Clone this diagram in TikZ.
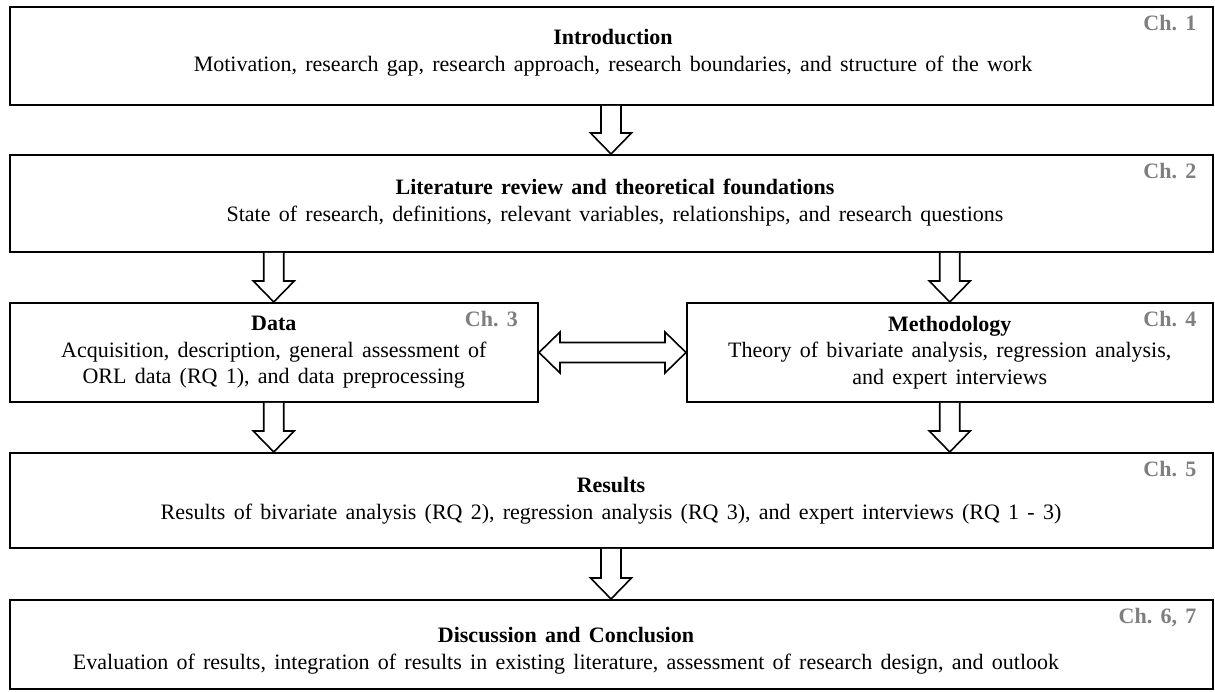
\documentclass[tikz,border=0pt]{standalone}
\usepackage{fontspec}
\setmainfont[WordSpace=1.5]{Liberation Serif}
\usetikzlibrary{calc}
\definecolor{chgray}{HTML}{7F7F7F}
\tikzset{
  box/.style={draw=black, line width=2pt, fill=white, inner sep=0pt},
  boxtext/.style={align=center, inner sep=0pt, font=\fontsize{22}{26.5}\selectfont},
  chlab/.style={anchor=north east, text=chgray, inner sep=0pt,
    font=\fontsize{22}{24}\selectfont\bfseries},
  blk/.style={draw=black, line width=1.6pt, fill=white, line join=miter}
}
\newcommand{\dnarrow}[2]{%
  \draw[blk] let \p1=(#1), \p2=(#2) in
    (\x1-10pt,\y1) -- (\x1-10pt,\y2+21pt) -- (\x1-20.5pt,\y2+21pt) -- (\x1,\y2)
    -- (\x1+20.5pt,\y2+21pt) -- (\x1+10pt,\y2+21pt) -- (\x1+10pt,\y1);}
\begin{document}
\begin{tikzpicture}[x=1pt,y=1pt]
\useasboundingbox (0,0) rectangle (1215,692);
\node[box, minimum width=1203pt, minimum height=98pt] (intro) at (611,636) {};
\node[box, minimum width=1203pt, minimum height=97pt] (lit) at (611,488.5) {};
\node[box, minimum width=528.5pt, minimum height=99pt] (data) at (273.75,339.5) {};
\node[box, minimum width=525.5pt, minimum height=99pt] (meth) at (949.75,339.5) {};
\node[box, minimum width=1203pt, minimum height=95pt] (res) at (611,191.5) {};
\node[box, minimum width=1203pt, minimum height=89pt] (disc) at (611,47.5) {};
\node[boxtext] (introtxt) at ($(intro.center)+(2pt,3pt)$)
  {\textbf{Introduction}\\Motivation, research gap, research approach, research boundaries, and structure of the work};
\node[boxtext] (littxt) at ($(lit.center)+(4pt,1pt)$)
  {\textbf{Literature review and theoretical foundations}\\State of research, definitions, relevant variables, relationships, and research questions};
\node[boxtext] (datatxt) at (data.center)
  {\textbf{Data}\\Acquisition, description, general assessment of\\ORL data (RQ 1), and data preprocessing};
\node[boxtext] (methtxt) at (meth.center)
  {\textbf{Methodology}\\Theory of bivariate analysis, regression analysis,\\and expert interviews};
\node[boxtext] (restxt) at (res.center)
  {\textbf{Results}\\Results of bivariate analysis (RQ 2), regression analysis (RQ 3), and expert interviews (RQ 1 - 3)};
\node[boxtext] (disctxt) at ($(disc.center)+(-45pt,-6pt)$)
  {\textbf{Discussion and Conclusion}\\Evaluation of results, integration of results in existing literature, assessment of research design, and outlook};
\node[chlab] (ch1) at ($(intro.north east)+(-17pt,-9pt)$) {Ch.~1};
\node[chlab] (ch2) at ($(lit.north east)+(-17pt,-9pt)$) {Ch.~2};
\node[chlab] (ch3) at ($(data.north east)+(-21pt,-9pt)$) {Ch.~3};
\node[chlab] (ch4) at ($(meth.north east)+(-17pt,-9pt)$) {Ch.~4};
\node[chlab] (ch5) at ($(res.north east)+(-17pt,-9pt)$) {Ch.~5};
\node[chlab] (ch67) at ($(disc.north east)+(-17pt,-9pt)$) {Ch.~6, 7};
\dnarrow{intro.south}{lit.north -| intro.south}
\dnarrow{lit.south -| data.north}{data.north}
\dnarrow{lit.south -| meth.north}{meth.north}
\dnarrow{data.south}{res.north -| data.south}
\dnarrow{meth.south}{res.north -| meth.south}
\dnarrow{res.south}{disc.north -| res.south}
\draw[blk] let \p1=(data.east), \p2=(meth.west) in
  (\x1,\y1) -- (\x1+21pt,\y1+20.5pt) -- (\x1+21pt,\y1+10pt) -- (\x2-21pt,\y1+10pt)
  -- (\x2-21pt,\y1+20.5pt) -- (\x2,\y1) -- (\x2-21pt,\y1-20.5pt) -- (\x2-21pt,\y1-10pt)
  -- (\x1+21pt,\y1-10pt) -- (\x1+21pt,\y1-20.5pt) -- cycle;
\end{tikzpicture}
\end{document}
